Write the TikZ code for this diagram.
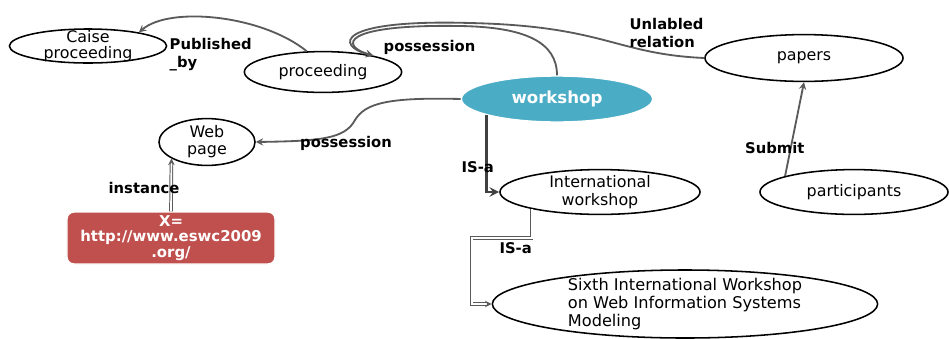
\documentclass[tikz,border=0pt]{standalone}
\usepackage{fontspec}
\setmainfont{DejaVu Sans}
\usepackage{xcolor}
\usetikzlibrary{shapes.geometric, arrows, positioning, calc}
\definecolor{wsblue}{HTML}{4BACC6}
\definecolor{urlred}{HTML}{C0504D}
\definecolor{linegray}{HTML}{5A5A5A}
\tikzstyle{concept} = [ellipse, draw=black, line width=1.1pt, inner xsep=0pt, inner ysep=-4pt, align=center, font=\fontsize{11.3}{12}\selectfont]
\tikzstyle{mainconcept} = [ellipse, fill=wsblue, draw=white, line width=1pt, inner sep=0pt, text=white, font=\fontsize{11.8}{13}\selectfont\bfseries]
\tikzstyle{instbox} = [rectangle, rounded corners=5pt, fill=urlred, draw=white, line width=1pt, inner sep=0pt, text=white, align=center, font=\fontsize{10.6}{11}\selectfont\bfseries]
\tikzstyle{rel} = [align=left, inner sep=1pt, font=\fontsize{10.5}{12.5}\selectfont\bfseries]
\tikzstyle{arrow} = [draw=linegray, line width=1.3pt, ->, >=stealth]
\tikzstyle{isa} = [draw=black!75, line width=2pt, ->, >=stealth]
\tikzstyle{dblarrow} = [draw=linegray, double=white, double distance=1.2pt, line width=0.7pt, ->, >=stealth]

\begin{document}
\begin{tikzpicture}[x=0.025cm, y=-0.025cm]
    \useasboundingbox (0,0) rectangle (949,338);
    \node (caise) [concept, minimum width=3.93cm, minimum height=0.85cm, font=\fontsize{11.3}{11}\selectfont] at (88,46) {Caise\\proceeding};
    \node (proc) [concept, minimum width=3.93cm, minimum height=1.02cm] at (323,72) {proceeding};
    \node (web) [concept, minimum width=2.4cm, minimum height=1.17cm] at (207,142) {Web\\page};
    \node (url) [instbox, minimum width=5.2cm, minimum height=1.3cm] at (171,238) {X=\\http://www.eswc2009\\.org/};
    \node (ws) [mainconcept, minimum width=4.78cm, minimum height=1.15cm] at (557,99) {workshop};
    \node (papers) [concept, minimum width=4.95cm, minimum height=1.17cm] at (804,58) {papers};
    \node (part) [concept, minimum width=4.7cm, minimum height=1.12cm] at (854,192) {participants};
    \node (intl) [concept, minimum width=5cm, minimum height=1.12cm, font=\fontsize{11.3}{12.5}\selectfont] at (600,192) {International\\workshop};
    \node (sixth) [concept, minimum width=9.63cm, minimum height=1.7cm, inner ysep=-6pt, align=left, font=\fontsize{11.5}{13}\selectfont] at (685,304) {Sixth International Workshop\\on Web Information Systems\\Modeling};

    \draw [arrow] (proc.128) .. controls (262,15) and (170,6) .. (caise.15);
    \node (pubby) [rel, anchor=north west] at (168,37) {Published\\\_by};
    % both relations end at proceeding
    \draw [arrow] (ws.north) .. controls (557,42) and (525,27) .. (460,26) .. controls (340,24) and (340,46) .. (proc.18);
    \draw [arrow] (papers.west) .. controls (615,54) and (605,26) .. (470,23) .. controls (335,19) and (335,46) .. (proc.18);
    \node (possa) [rel, anchor=west] at (382,47) {possession};
    \node (unlab) [rel, anchor=west] at (628,33) {Unlabled\\relation};
    \draw [arrow] (ws.west) .. controls (385,97) and (365,104) .. (355,120) .. controls (345,139) and (320,141) .. (web.east);
    \node (possb) [rel] at (346,143) {possession};
    \draw [dblarrow] (url.north) -- node[rel, anchor=east, pos=0.45, xshift=0.25cm] {instance} (web.205);
    \draw [isa] (ws.193) |- node[rel, anchor=east, pos=0.34, xshift=0.25cm] {IS-a} (intl.west);
    \draw [dblarrow] (intl.194) -- ++(0,29) -- ++(-60,0) |- node[rel, anchor=north west, pos=0.02, xshift=0.65cm] {IS-a} (sixth.west);
    \draw [arrow] (part.167) -- node[rel, anchor=east, pos=0.3, xshift=0.4cm] {Submit} (papers.south);
\end{tikzpicture}
\end{document}
